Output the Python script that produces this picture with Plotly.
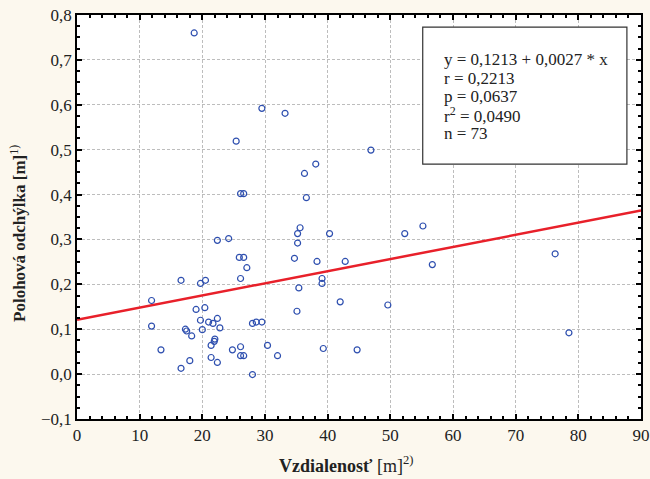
import plotly.graph_objects as go

# Data
distance = [18.7, 29.5, 33.2, 25.4, 46.9, 38.1, 36.3, 26.1, 26.6, 36.6,
            55.2, 35.6, 35.2, 40.3, 52.3, 24.2, 22.4, 35.2, 76.3, 25.9,
            26.6, 34.7, 38.3, 42.8, 56.7, 27.1, 26.1, 39.1, 16.6, 20.5,
            19.7, 39.1, 35.4, 11.9, 42.0, 49.6, 20.4, 19.0, 35.1, 22.4,
            19.7, 21.0, 28.6, 29.5, 21.7, 28.0, 11.9, 22.8, 17.3, 20.0,
            17.5, 78.5, 18.3, 22.0, 21.9, 30.4, 21.4, 26.1, 39.3, 13.4,
            24.8, 44.7, 26.1, 26.6, 32.0, 21.4, 18.0, 22.4, 16.6, 28.0]
deviation = [0.760, 0.592, 0.581, 0.519, 0.499, 0.468, 0.447, 0.402, 0.402, 0.393,
             0.330, 0.326, 0.313, 0.313, 0.313, 0.302, 0.298, 0.292, 0.268, 0.260,
             0.260, 0.258, 0.251, 0.251, 0.244, 0.237, 0.213, 0.213, 0.209, 0.209,
             0.202, 0.202, 0.192, 0.164, 0.161, 0.154, 0.148, 0.144, 0.140, 0.124,
             0.120, 0.116, 0.116, 0.116, 0.113, 0.113, 0.107, 0.103, 0.100, 0.099,
             0.096, 0.092, 0.085, 0.078, 0.073, 0.064, 0.064, 0.061, 0.057, 0.054,
             0.054, 0.054, 0.041, 0.041, 0.041, 0.037, 0.030, 0.026, 0.013, -0.001]

intercept = 0.1213
slope = 0.0027
x_range = [0, 90]
y_range = [-0.1, 0.8]

x_title = "<b>Vzdialenosť</b> [m]<sup>2)</sup>"
y_title = "<b>Polohová odchýlka [m]</b><sup>1)</sup>"
stats_lines = ["y = 0,1213 + 0,0027 * x", "r = 0,2213", "p = 0,0637",
               "r<sup>2</sup> = 0,0490", "n = 73"]

FONT = "Liberation Serif"
BG = "#FCF8EE"

fig = go.Figure()
fig.add_trace(go.Scatter(
    x=x_range, y=[intercept + slope * v for v in x_range], mode="lines",
    line=dict(color="#E8202A", width=2.5), hoverinfo="skip"))
fig.add_trace(go.Scatter(
    x=distance, y=deviation, mode="markers",
    marker=dict(symbol="circle-open", size=6, color="#2E4FAF", line=dict(width=1.2))))

axis_common = dict(
    showline=True, linecolor="black", linewidth=1.5, mirror="allticks",
    ticks="inside", ticklen=5, tickcolor="black", tickwidth=1.5,
    showgrid=True, gridcolor="#BDBDBD", griddash="3px,2px", gridwidth=1,
    zeroline=False, automargin=False,
    tickfont=dict(family=FONT, size=17, color="#222"),
)

fig.update_xaxes(range=x_range, dtick=10, tick0=0,
                 minor=dict(dtick=2, ticks="inside", ticklen=3, tickcolor="black", showgrid=False),
                 **axis_common)
fig.update_yaxes(range=y_range, dtick=0.1, tick0=0, tickformat=".1f",
                 minor=dict(dtick=0.025, ticks="inside", ticklen=3, tickcolor="black", showgrid=False),
                 **axis_common)

# Axis titles
fig.add_annotation(xref="paper", yref="paper", x=0.477, y=-0.113, text=x_title,
                   showarrow=False, xanchor="center", yanchor="middle",
                   font=dict(family=FONT, size=18, color="#222"))
fig.add_annotation(xref="paper", yref="paper", x=-0.105, y=0.46, text=y_title,
                   showarrow=False, xanchor="center", yanchor="middle", textangle=-90,
                   font=dict(family=FONT, size=17, color="#222"))

# Stats box
fig.add_shape(type="rect", xref="paper", yref="paper", x0=0.613, x1=0.975, y0=0.631, y1=0.970,
              line=dict(color="#333", width=1.2), fillcolor="white")
for i, t in enumerate(stats_lines):
    fig.add_annotation(xref="paper", yref="paper", x=0.648, y=0.889 - i * 0.0455,
                       text=t, showarrow=False, xanchor="left", yanchor="middle",
                       font=dict(family=FONT, size=17, color="#222"))

fig.update_layout(
    width=650, height=479, showlegend=False,
    margin=dict(l=77, r=9, t=15, b=60),
    paper_bgcolor=BG, plot_bgcolor="white",
    separators=", ",
)

fig.write_html("out.html", config={"displayModeBar": False},
               post_script="document.body.style.margin='0';document.body.style.background='%s';" % BG)
